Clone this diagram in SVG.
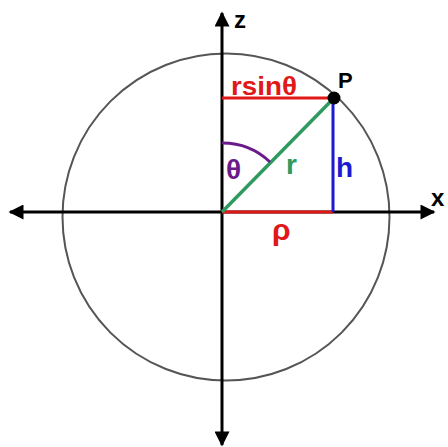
<svg xmlns="http://www.w3.org/2000/svg" width="448" height="447" viewBox="0 0 448 447">
<defs>
<style>
.lbl{font-family:"Liberation Sans",Arial,sans-serif;font-weight:bold}
.axis{stroke:#000;stroke-width:3;fill:none}
</style>
<marker id="ah" viewBox="0 0 10 10" refX="9" refY="5" markerWidth="6" markerHeight="5" markerUnits="strokeWidth" orient="auto">
<path d="M0,0 L10,5 L0,10 z" fill="#000"/>
</marker>
</defs>
<rect width="448" height="447" fill="#fff"/>
<g id="circle"><circle cx="226" cy="217" r="163.5" fill="none" stroke="#555" stroke-width="2"/></g>
<g id="connectors">
<line class="axis" x1="222" y1="212" x2="222" y2="13" marker-end="url(#ah)"/>
<line class="axis" x1="222" y1="212" x2="222" y2="445" marker-end="url(#ah)"/>
<line class="axis" x1="222" y1="212" x2="434" y2="212" marker-end="url(#ah)"/>
<line class="axis" x1="222" y1="212" x2="10" y2="212" marker-end="url(#ah)"/>
<line x1="222" y1="98" x2="334" y2="98" stroke="#e01818" stroke-width="3"/>
<line x1="222" y1="212" x2="333" y2="212" stroke="#e01818" stroke-width="3"/>
<line x1="333" y1="98" x2="333" y2="212" stroke="#1a1ad0" stroke-width="3"/>
<line x1="222" y1="212" x2="334" y2="98" stroke="#2e9a60" stroke-width="3.5"/>
<path d="M222,143 A69,69 0 0 1 270,162" fill="none" stroke="#6a1a8a" stroke-width="3"/>
</g>
<g id="P"><circle cx="334" cy="98" r="6.5" fill="#000"/><text class="lbl" x="338" y="88" font-size="22">P</text></g>
<g id="labels">
<text class="lbl" x="234" y="28" font-size="24">z</text>
<text class="lbl" x="431" y="206" font-size="24">x</text>
<text class="lbl" x="231" y="95" font-size="26" fill="#e01818" textLength="66" lengthAdjust="spacingAndGlyphs">rsinθ</text>
<text class="lbl" x="226" y="179" font-size="28" fill="#6a1a8a">θ</text>
<text class="lbl" x="286" y="174" font-size="28" fill="#2e9a60">r</text>
<text class="lbl" x="336" y="177" font-size="28" fill="#1a1ad0">h</text>
<text class="lbl" x="272" y="240" font-size="30" fill="#e01818">ρ</text>
</g>
</svg>
